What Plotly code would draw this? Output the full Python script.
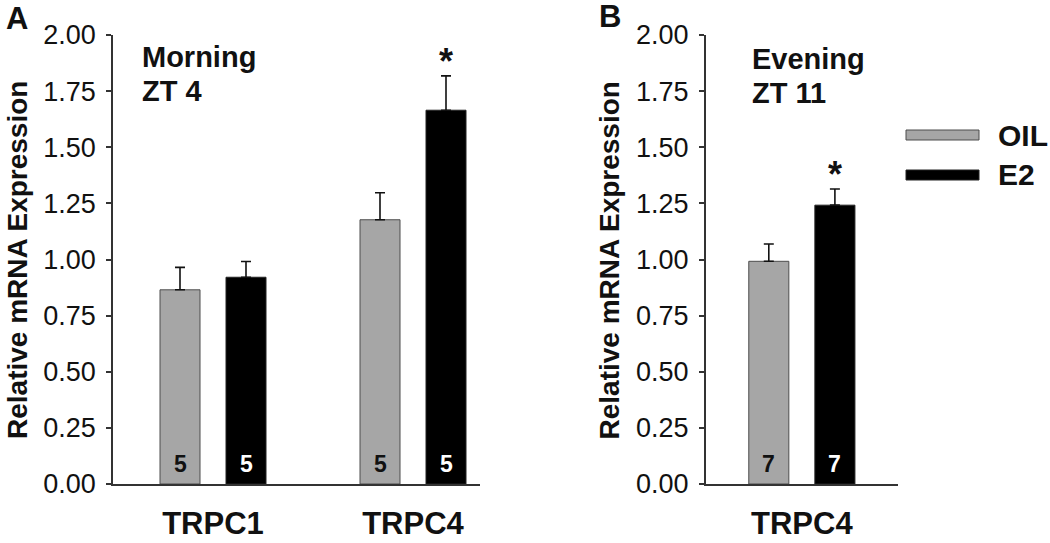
import plotly.graph_objects as go

W, H = 1050, 543

# ---- data ----
genes_a = ["TRPC1", "TRPC4"]
oil_a = [0.865, 1.177]
oil_a_err = [0.10, 0.12]
e2_a = [0.921, 1.665]
e2_a_err = [0.07, 0.153]
n_oil_a = [5, 5]
n_e2_a = [5, 5]

genes_b = ["TRPC4"]
oil_b = [0.992]
oil_b_err = [0.077]
e2_b = [1.242]
e2_b_err = [0.072]
n_oil_b = [7]
n_e2_b = [7]

sig_a = ["", "*"]
sig_b = ["*"]

yticks = [0, 0.25, 0.5, 0.75, 1.0, 1.25, 1.5, 1.75, 2.0]

GRAY = "#a6a6a6"
BLACK = "#000000"
FONT = "Liberation Sans, Arial, sans-serif"

BW = 0.2
OFF_OIL = -0.265
OFF_E2 = 0.065


def px(x):
    return x / W


def py(y):
    return 1 - y / H


fig = go.Figure()


def add_panel(genes, oil, oil_err, e2, e2_err, xa, ya):
    fig.add_trace(go.Bar(
        x=genes, y=oil, name="OIL", width=BW, offset=OFF_OIL,
        marker=dict(color=GRAY, line=dict(color="#4d4d4d", width=1)),
        error_y=dict(type="data", array=oil_err, arrayminus=[0] * len(oil),
                     symmetric=False, color="#111111", thickness=1.6, width=5),
        xaxis=xa, yaxis=ya, showlegend=False))
    fig.add_trace(go.Bar(
        x=genes, y=e2, name="E2", width=BW, offset=OFF_E2,
        marker=dict(color=BLACK, line=dict(color="#222222", width=1)),
        error_y=dict(type="data", array=e2_err, arrayminus=[0] * len(e2),
                     symmetric=False, color="#111111", thickness=1.6, width=5),
        xaxis=xa, yaxis=ya, showlegend=False))


add_panel(genes_a, oil_a, oil_a_err, e2_a, e2_a_err, "x", "y")
add_panel(genes_b, oil_b, oil_b_err, e2_b, e2_b_err, "x2", "y2")

ydom = [py(484), py(35)]
axis_common = dict(showgrid=False, zeroline=False, showline=True,
                   linecolor="#333333", linewidth=1.5)

yax = dict(range=[0, 2], tickvals=yticks, tickformat=".2f", ticks="outside",
           ticklen=5, tickwidth=1.5, tickcolor="#333333", ticklabelstandoff=5,
           tickfont=dict(family=FONT, size=27, color="#111111"),
           domain=ydom, automargin=False, **axis_common)
xax = dict(type="category", ticks="", ticklabelstandoff=11,
           tickfont=dict(family=FONT, size=31, color="#111111", weight="bold"),
           automargin=False, **axis_common)

fig.update_layout(
    width=W, height=H,
    margin=dict(l=0, r=0, t=0, b=0),
    paper_bgcolor="white", plot_bgcolor="white",
    barmode="overlay",
    xaxis=dict(domain=[px(113), px(480)], range=[-0.5, 1.335], anchor="y", **xax),
    yaxis=dict(anchor="x", **yax),
    xaxis2=dict(domain=[px(705.7), px(898)], range=[-0.48, 0.48], anchor="y2", **xax),
    yaxis2=dict(anchor="x2", **yax),
)

ann = []
# n labels inside bars
for xr, yr, genes, n_oil, n_e2 in [("x", "y", genes_a, n_oil_a, n_e2_a),
                                    ("x2", "y2", genes_b, n_oil_b, n_e2_b)]:
    for i, g in enumerate(genes):
        ann.append(dict(x=i + OFF_OIL + BW / 2, y=0.09, xref=xr, yref=yr,
                        text=str(n_oil[i]), showarrow=False,
                        xanchor="center", yanchor="middle",
                        font=dict(family=FONT, size=23, color="#111111", weight="bold")))
        ann.append(dict(x=i + OFF_E2 + BW / 2, y=0.09, xref=xr, yref=yr,
                        text=str(n_e2[i]), showarrow=False,
                        xanchor="center", yanchor="middle",
                        font=dict(family=FONT, size=23, color="white", weight="bold")))

# significance stars
for xr, yr, sig, e2, e2_err in [("x", "y", sig_a, e2_a, e2_a_err),
                                 ("x2", "y2", sig_b, e2_b, e2_b_err)]:
    for i, s in enumerate(sig):
        if s:
            ann.append(dict(x=i + OFF_E2 + BW / 2, y=e2[i] + e2_err[i], xref=xr, yref=yr,
                            text=s, showarrow=False, xanchor="center", yanchor="bottom",
                            yshift=-8,
                            font=dict(family=FONT, size=36, color="#111111", weight="bold")))


def bold(s):
    return dict(family=FONT, size=s, color="#111111", weight="bold")


def label(xc, yc, text, size, xanchor="center", angle=0):
    ann.append(dict(x=px(xc), y=py(yc), xref="paper", yref="paper", text=text,
                    showarrow=False, xanchor=xanchor, yanchor="middle",
                    textangle=angle, font=bold(size)))


# y-axis titles
label(17.5, 260.5, "Relative mRNA Expression", 28, angle=-90)
label(609, 260.5, "Relative mRNA Expression", 28, angle=-90)

# panel letters
label(16.5, 18, "A", 31)
label(609.5, 16, "B", 31)

# condition labels
label(140, 57, "Morning", 29, xanchor="left")
label(140, 91, "ZT 4", 29, xanchor="left")
label(750, 59, "Evening", 29, xanchor="left")
label(750, 93, "ZT 11", 29, xanchor="left")

# legend
legend_items = [("OIL", GRAY, "#4d4d4d", 130, 140), ("E2", BLACK, "#222222", 170, 180)]
shapes = []
for name, fc, lc, y0, y1 in legend_items:
    shapes.append(dict(type="rect", xref="paper", yref="paper",
                       x0=px(906), x1=px(979), y0=py(y1), y1=py(y0),
                       fillcolor=fc, line=dict(color=lc, width=1)))
    label(996, (y0 + y1) / 2, name, 30, xanchor="left")

fig.update_layout(annotations=ann, shapes=shapes)

fig.write_html("out.html", config={"displayModeBar": False},
               post_script="document.body.style.margin='0px';document.body.style.overflow='hidden';")
